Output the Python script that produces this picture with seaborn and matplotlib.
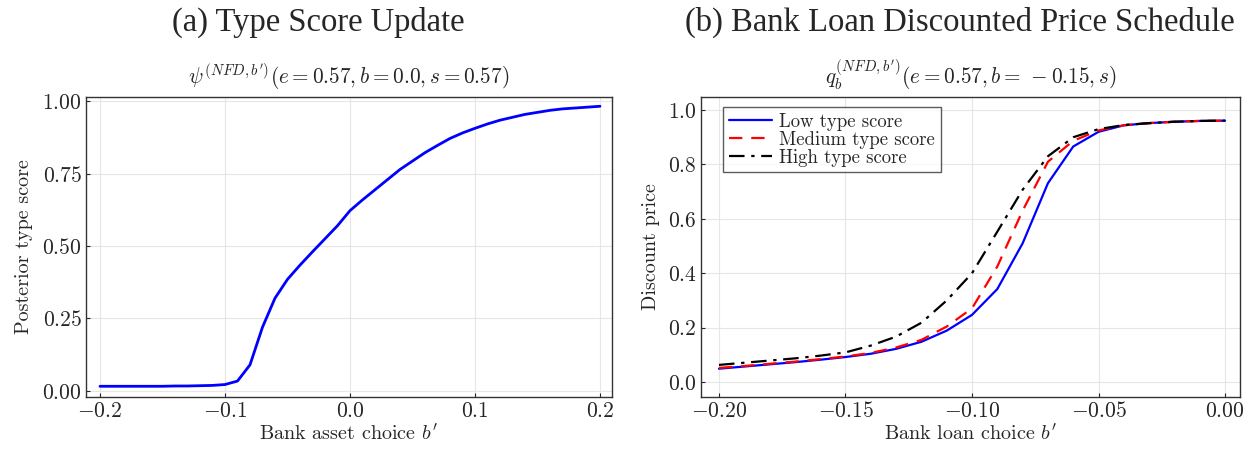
import numpy as np
import pandas as pd
import matplotlib
matplotlib.use("Agg")
import matplotlib.pyplot as plt
import seaborn as sns

# ---------------- data ----------------
b_asset = [-0.20, -0.19, -0.18, -0.17, -0.16, -0.15, -0.14, -0.13, -0.12, -0.11,
           -0.10, -0.09, -0.08, -0.07, -0.06, -0.05, -0.04, -0.03, -0.02, -0.01,
           0.00, 0.01, 0.02, 0.03, 0.04, 0.05, 0.06, 0.07, 0.08, 0.09,
           0.10, 0.11, 0.12, 0.13, 0.14, 0.15, 0.16, 0.17, 0.18, 0.19, 0.20]
posterior = [0.016, 0.016, 0.016, 0.016, 0.016, 0.016, 0.017, 0.017, 0.018, 0.019,
             0.022, 0.034, 0.090, 0.220, 0.320, 0.385, 0.434, 0.480, 0.525, 0.570,
             0.622, 0.659, 0.694, 0.729, 0.764, 0.793, 0.822, 0.847, 0.871, 0.890,
             0.906, 0.921, 0.934, 0.944, 0.954, 0.961, 0.968, 0.973, 0.976, 0.979, 0.982]

b_loan = [-0.20, -0.19, -0.18, -0.17, -0.16, -0.15, -0.14, -0.13, -0.12, -0.11,
          -0.10, -0.09, -0.08, -0.07, -0.06, -0.05, -0.04, -0.03, -0.02, -0.01, 0.00]
price_low = [0.049, 0.057, 0.065, 0.073, 0.082, 0.092, 0.104, 0.122, 0.148, 0.189,
             0.247, 0.342, 0.510, 0.731, 0.866, 0.920, 0.944, 0.952, 0.957, 0.960, 0.961]
price_med = [0.052, 0.059, 0.067, 0.075, 0.084, 0.094, 0.107, 0.127, 0.155, 0.204,
             0.271, 0.425, 0.630, 0.810, 0.887, 0.925, 0.944, 0.952, 0.957, 0.960, 0.961]
price_high = [0.063, 0.071, 0.079, 0.087, 0.097, 0.109, 0.134, 0.167, 0.218, 0.300,
              0.400, 0.553, 0.707, 0.830, 0.900, 0.930, 0.945, 0.952, 0.957, 0.960, 0.961]
series_names = ["Low type score", "Medium type score", "High type score"]

# ---------------- style ----------------
sns.set_style("white")
plt.rcParams.update({
    "font.family": ["cmr10", "DejaVu Serif"],
    "mathtext.fontset": "cm",
    "axes.formatter.use_mathtext": True,
    "axes.unicode_minus": True,
    "axes.edgecolor": "#333333",
    "axes.linewidth": 1.0,
    "xtick.direction": "in",
    "ytick.direction": "in",
    "xtick.major.size": 3,
    "ytick.major.size": 3,
    "xtick.major.width": 0.8,
    "ytick.major.width": 0.8,
    "xtick.bottom": True,
    "ytick.left": True,
})

fig = plt.figure(figsize=(12.6, 4.5), dpi=100)
ax1 = fig.add_axes([86/1260, 1-397/450, (612-86)/1260, 300/450])
ax2 = fig.add_axes([701/1260, 1-397/450, (1240-701)/1260, 300/450])

grid_kw = dict(color="#e6e6e6", linewidth=0.8)
TICK = 15.5

# ---- left panel ----
df1 = pd.DataFrame({"b": b_asset, "psi": posterior})
sns.lineplot(data=df1, x="b", y="psi", ax=ax1, color="#0000ff", linewidth=2.0)
ax1.set_xlim(-0.2112, 0.2096)
ax1.set_ylim(-0.021, 1.014)
ax1.set_xticks([-0.2, -0.1, 0.0, 0.1, 0.2])
ax1.set_yticks([0.0, 0.25, 0.5, 0.75, 1.0])
ax1.set_xticklabels(["$-0.2$", "$-0.1$", "$0.0$", "$0.1$", "$0.2$"])
ax1.set_yticklabels(["$0.00$", "$0.25$", "$0.50$", "$0.75$", "$1.00$"])
ax1.grid(True, **grid_kw)
ax1.set_axisbelow(True)
ax1.tick_params(labelsize=TICK, pad=3)
ax1.set_xlabel("Bank asset choice $b'$", fontsize=14.5, labelpad=2)
ax1.set_ylabel("Posterior type score", fontsize=14.5, labelpad=7)
ax1.set_title(r"$\psi^{(NFD,b')}(e=0.57,b=0.0,s=0.57)$", fontsize=15.3, pad=9)

# ---- right panel ----
df2 = pd.DataFrame({
    "b": b_loan * 3,
    "q": price_low + price_med + price_high,
    "series": sum([[n] * len(b_loan) for n in series_names], []),
})
colors = ["#0000ff", "#ff0000", "#000000"]
dash_styles = ["-", (0, (6, 4)), (0, (7, 3, 1.5, 3))]
for name, c, ls in zip(series_names, colors, dash_styles):
    sns.lineplot(data=df2[df2["series"] == name], x="b", y="q", ax=ax2,
                 color=c, linestyle=ls, linewidth=1.6, label=name)
ax2.set_xlim(-0.2071, 0.0059)
ax2.set_ylim(-0.055, 1.048)
ax2.set_xticks([-0.20, -0.15, -0.10, -0.05, 0.00])
ax2.set_yticks([0.0, 0.2, 0.4, 0.6, 0.8, 1.0])
ax2.set_xticklabels(["$-0.20$", "$-0.15$", "$-0.10$", "$-0.05$", "$0.00$"])
ax2.set_yticklabels(["$0.0$", "$0.2$", "$0.4$", "$0.6$", "$0.8$", "$1.0$"])
ax2.grid(True, **grid_kw)
ax2.set_axisbelow(True)
ax2.tick_params(labelsize=TICK, pad=3)
ax2.set_xlabel("Bank loan choice $b'$", fontsize=14.5, labelpad=2)
ax2.set_ylabel("Discount price", fontsize=14.5, labelpad=6)
ax2.set_title(r"$q_b^{(NFD,b')}(e=0.57,b=\,-0.15,s)$", fontsize=15.3, pad=9)
leg = ax2.legend(loc="upper left", bbox_to_anchor=(0.041, 0.967), fontsize=13.5,
                 frameon=True, fancybox=False, edgecolor="#333333", borderpad=0.3,
                 labelspacing=0.0, handlelength=2.3, handletextpad=0.4,
                 borderaxespad=0.0)
leg.get_frame().set_linewidth(1.0)

# ---- panel headings ----
fig.text(318/1260, 1-22/450, "(a) Type Score Update", ha="center", va="center",
         fontsize=23.5, family=["Liberation Serif"])
fig.text(960/1260, 1-22/450, "(b) Bank Loan Discounted Price Schedule", ha="center",
         va="center", fontsize=23.5, family=["Liberation Serif"])

fig.savefig("out.png", dpi=100)
